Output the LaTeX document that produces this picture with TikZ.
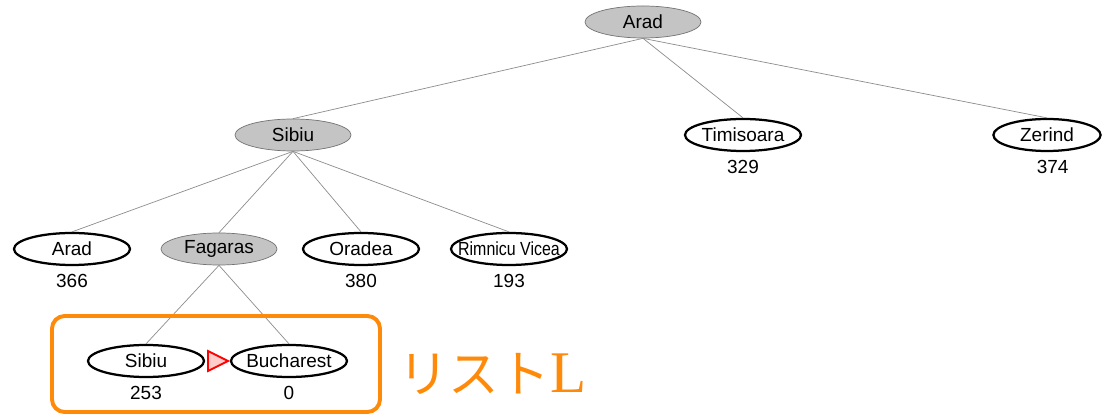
\documentclass[tikz,border=0pt]{standalone}
\usepackage{fontspec,graphicx}
\setmainfont{Liberation Sans}
\newfontfamily\jpfont{Noto Sans CJK JP}
\newfontfamily\serifL{Liberation Serif}
\usetikzlibrary{positioning,shapes.geometric}
\definecolor{listorange}{HTML}{FF8A0A}
\definecolor{nodegray}{HTML}{C4C4C4}

\begin{document}
\begin{tikzpicture}[x=0.025cm,y=-0.025cm,font=\fontsize{13.5}{15}\selectfont,
  city/.style={ellipse,draw=black,line width=1.6pt,fill=white,minimum width=2.9cm,minimum height=0.8cm,inner sep=0pt},
  expanded/.style={city,draw=black!55,line width=0.5pt,fill=nodegray},
  hval/.style={inner sep=0pt},
  link/.style={draw=black!45,line width=0.5pt}]
\useasboundingbox (0,0) rectangle (1103,418);
% search tree
\node[expanded] (root) at (643,22) {\makebox[0pt]{Arad}};
\node[expanded] (sib) at (293,135) {\makebox[0pt]{Sibiu}};
\node[city] (tim) at (743,135) {\makebox[0pt]{Timisoara}};
\node[city,minimum width=2.68cm] (zer) at (1047,135) {\makebox[0pt]{Zerind}};
\node[city] (ara) at (72,249) {\makebox[0pt]{Arad}};
\node[expanded] (fag) at (219,249) {\makebox[0pt]{Fagaras}};
\node[city] (ora) at (361,249) {\makebox[0pt]{Oradea}};
\node[city] (rim) at (509,249) {\makebox[0pt]{\scalebox{0.84}[1]{Rimnicu Vicea}}};
\node[city] (sib2) at (146,361) {\makebox[0pt]{Sibiu}};
\node[city] (buc) at (289,361) {\makebox[0pt]{Bucharest}};
% heuristic values
\node[hval,below=5.5pt of tim] (h-tim) {329};
\node[hval,below=5.5pt of zer,xshift=4pt] (h-zer) {374};
\node[hval,below=5.5pt of ara] (h-ara) {366};
\node[hval,below=5.5pt of ora] (h-ora) {380};
\node[hval,below=5.5pt of rim] (h-rim) {193};
\node[hval,below=5.5pt of sib2] (h-sib2) {253};
\node[hval,below=5.5pt of buc] (h-buc) {0};
\draw[link] (root.south) -- (sib.north);
\draw[link] (root.south) -- (tim.north);
\draw[link] (root.south) -- (zer.north);
\draw[link] (sib.south) -- (ara.north);
\draw[link] (sib.south) -- (fag.north);
\draw[link] (sib.south) -- (ora.north);
\draw[link] (sib.south) -- (rim.north);
\draw[link] (fag.south) -- (sib2.north);
\draw[link] (fag.south) -- (buc.north);
% list L
\draw[red,fill=red!20,line width=1.3pt,line join=miter] (208,351) -- (228,361) -- (208,371) -- cycle;
\draw[listorange,line width=2.8pt,rounded corners=9pt] (52,316) rectangle (380,412);
\node[text=listorange,anchor=west,inner sep=0pt] (listL) at (398,374)
  {\jpfont\fontsize{36}{40}\selectfont リスト{\serifL\fontsize{42}{44}\selectfont L}};
\end{tikzpicture}
\end{document}
